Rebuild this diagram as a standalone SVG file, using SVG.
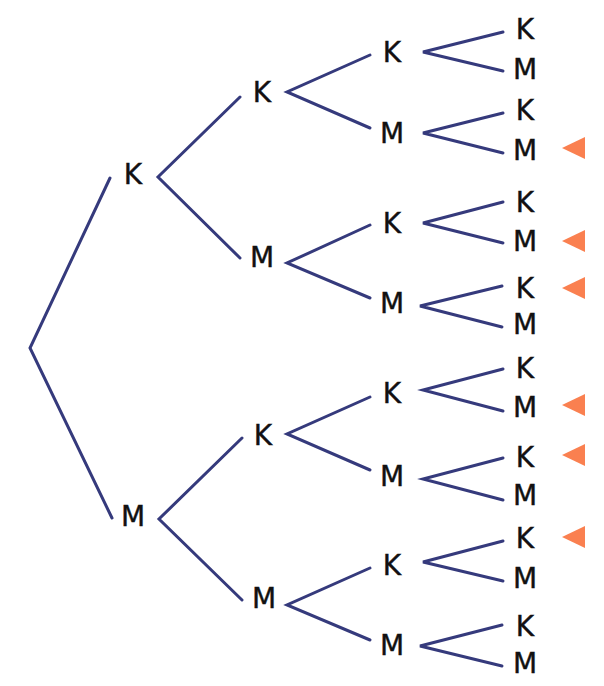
<svg xmlns="http://www.w3.org/2000/svg" width="604" height="686" viewBox="0 0 604 686">
<style>
.e{stroke:#353a7c;stroke-width:3;fill:none;stroke-linecap:round;stroke-linejoin:miter}
.t{font-family:"DejaVu Sans",Verdana,sans-serif;font-size:28px;fill:#111;stroke:#111;stroke-width:0.4;text-anchor:middle}
.m{fill:#fa8050}
</style>
<rect width="604" height="686" fill="#fff"/>
<g id="connectors">
<polyline class="e" points="110,178 30,348 112,518"/>
<polyline class="e" points="240,97 158,177 240,258"/>
<polyline class="e" points="242,438 159,519 242,600"/>
<polyline class="e" points="370,55 287,92 370,128"/>
<polyline class="e" points="370,225 287,263 370,298"/>
<polyline class="e" points="370,397 287,434 370,470"/>
<polyline class="e" points="370,568 287,605 370,640"/>
<polyline class="e" points="503,32 423,52 503,71"/>
<polyline class="e" points="503,113 423,133 503,153"/>
<polyline class="e" points="503,202 423,223 503,243"/>
<polyline class="e" points="502,286 420,306 502,327"/>
<polyline class="e" points="503,369 423,390 503,411"/>
<polyline class="e" points="503,458 423,479 503,500"/>
<polyline class="e" points="503,541 423,562 503,581"/>
<polyline class="e" points="502,625 420,646 502,666"/>
</g>
<g id="n1K"><text class="t" x="133" y="184">K</text></g>
<g id="n1M"><text class="t" x="133" y="526">M</text></g>
<g id="n2KK"><text class="t" x="262" y="102">K</text></g>
<g id="n2KM"><text class="t" x="262" y="267">M</text></g>
<g id="n2MK"><text class="t" x="263" y="445">K</text></g>
<g id="n2MM"><text class="t" x="264" y="608">M</text></g>
<g id="n3a"><text class="t" x="392" y="62">K</text></g>
<g id="n3b"><text class="t" x="392" y="143">M</text></g>
<g id="n3c"><text class="t" x="392" y="233">K</text></g>
<g id="n3d"><text class="t" x="392" y="313">M</text></g>
<g id="n3e"><text class="t" x="392" y="403">K</text></g>
<g id="n3f"><text class="t" x="392" y="486">M</text></g>
<g id="n3g"><text class="t" x="392" y="575">K</text></g>
<g id="n3h"><text class="t" x="392" y="655">M</text></g>
<g id="n4a"><text class="t" x="525" y="39">K</text></g>
<g id="n4b"><text class="t" x="525" y="79">M</text></g>
<g id="n4c"><text class="t" x="525" y="120">K</text></g>
<g id="n4d"><text class="t" x="525" y="160">M</text></g>
<g id="n4e"><text class="t" x="525" y="212">K</text></g>
<g id="n4f"><text class="t" x="525" y="251">M</text></g>
<g id="n4g"><text class="t" x="525" y="298">K</text></g>
<g id="n4h"><text class="t" x="525" y="334">M</text></g>
<g id="n4i"><text class="t" x="525" y="378">K</text></g>
<g id="n4j"><text class="t" x="525" y="417">M</text></g>
<g id="n4k"><text class="t" x="525" y="467">K</text></g>
<g id="n4l"><text class="t" x="525" y="505">M</text></g>
<g id="n4m"><text class="t" x="525" y="548">K</text></g>
<g id="n4n"><text class="t" x="525" y="588">M</text></g>
<g id="n4o"><text class="t" x="525" y="636">K</text></g>
<g id="n4p"><text class="t" x="525" y="673">M</text></g>
<g id="markers">
<polygon class="m" points="562,148 585,137 585,159"/>
<polygon class="m" points="562,241 585,230 585,252"/>
<polygon class="m" points="562,288 585,277 585,299"/>
<polygon class="m" points="562,405 585,394 585,416"/>
<polygon class="m" points="562,455 585,444 585,466"/>
<polygon class="m" points="562,537 585,526 585,548"/>
</g>
</svg>
